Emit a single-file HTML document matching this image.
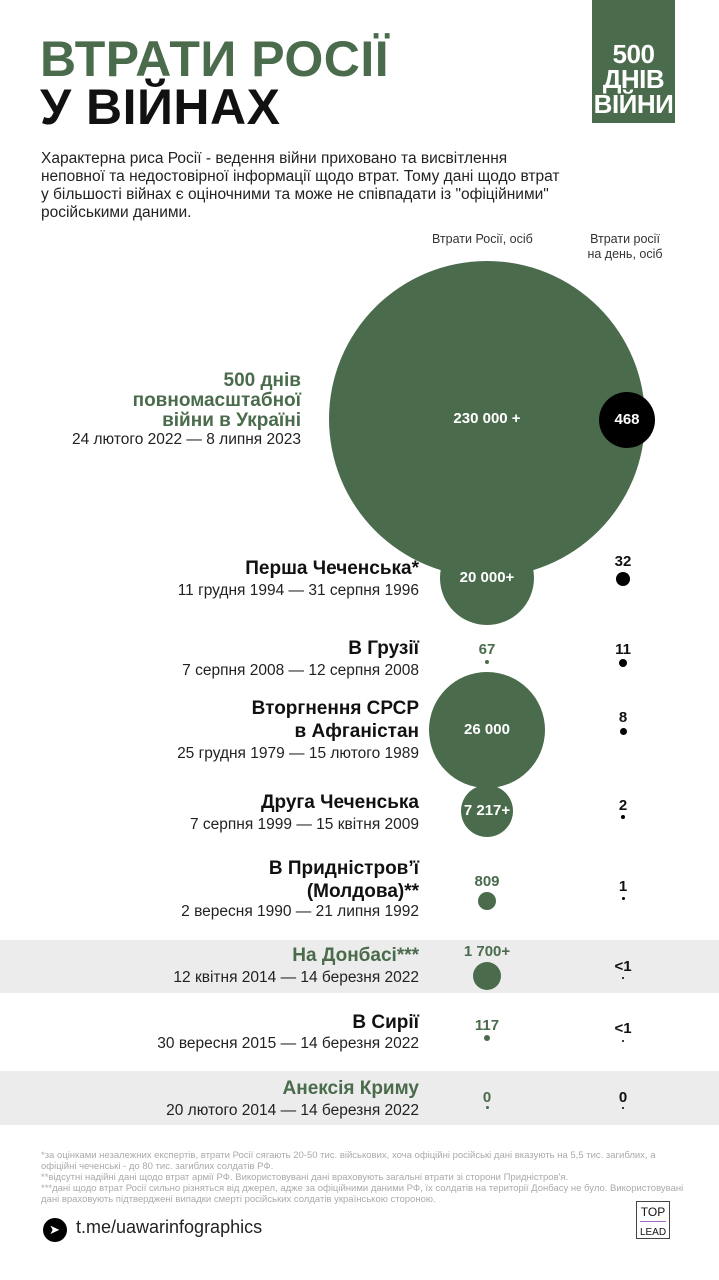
<!DOCTYPE html>
<html><head><meta charset="utf-8"><style>
body{margin:0;width:719px;height:1280px;background:#fff;position:relative;overflow:hidden;font-family:"Liberation Sans","DejaVu Sans",sans-serif;color:#111}
.a{position:absolute}
.t{position:absolute;right:300px;text-align:right;white-space:nowrap;z-index:2}
.h{font-weight:bold;font-size:19px;line-height:23px}
.d{font-size:15.5px;line-height:21px;color:#222}
.g{color:#4a6b4c}
.band{position:absolute;left:0;width:719px;background:#ececec}
.c{position:absolute;border-radius:50%;background:#4a6b4c}
.k{position:absolute;border-radius:50%;background:#000}
.n{position:absolute;width:80px;margin-left:-40px;text-align:center;font-weight:bold;font-size:15px;z-index:2}
</style></head><body>
<div class="band" style="top:940px;height:53px"></div>
<div class="band" style="top:1071px;height:54px"></div>
<div class="a" style="left:40px;top:34px;font-weight:900;font-size:50px;line-height:50px;color:#4a6b4c;letter-spacing:0.5px">ВТРАТИ РОСІЇ</div>
<div class="a" style="left:40px;top:82px;font-weight:900;font-size:50px;line-height:50px;color:#111;letter-spacing:0.5px">У ВІЙНАХ</div>
<div class="a" style="left:592px;top:0;width:83px;height:123px;background:#4a6b4c;color:#fff;font-weight:900;text-align:center;font-size:26px;line-height:25px;padding-top:42px;box-sizing:border-box;letter-spacing:-0.5px">500<br>ДНІВ<br>ВІЙНИ</div>
<div class="a" style="left:41px;top:150px;font-size:15.5px;line-height:18px;color:#222;width:600px">Характерна риса Росії - ведення війни приховано та висвітлення<br>неповної та недостовірної інформації щодо втрат. Тому дані щодо втрат<br>у більшості війнах є оціночними та може не співпадати із "офіційними"<br>російськими даними.</div>
<div class="a" style="left:432px;top:232px;font-size:12.5px;color:#333">Втрати Росії, осіб</div>
<div class="a" style="left:570px;top:232px;width:110px;text-align:center;font-size:12.5px;line-height:15px;color:#333">Втрати росії<br>на день, осіб</div>

<div class="c" style="left:329px;top:261px;width:316px;height:316px"></div>
<div class="n" style="left:487px;top:410px;color:#fff;width:120px;margin-left:-60px">230 000 +</div>
<div class="k" style="left:599px;top:392px;width:56px;height:56px"></div>
<div class="n" style="left:627px;top:411px;color:#fff">468</div>
<div class="t h g" style="top:371px;right:418px;line-height:20px">500 днів<br>повномасштабної<br>війни в Україні</div>
<div class="t d" style="top:429px;right:418px">24 лютого 2022 — 8 липня 2023</div>

<div class="c" style="left:440px;top:531px;width:94px;height:94px"></div>
<div class="n" style="left:487px;top:569px;color:#fff">20 000+</div>
<div class="n" style="left:623px;top:553px">32</div><div class="k" style="left:616px;top:572px;width:14px;height:14px"></div>
<div class="t h" style="top:557px">Перша Чеченська*</div>
<div class="t d" style="top:580px">11 грудня 1994 — 31 серпня 1996</div>

<div class="n g" style="left:487px;top:641px">67</div><div class="c" style="left:485px;top:660px;width:4px;height:4px"></div>
<div class="n" style="left:623px;top:641px">11</div><div class="k" style="left:619px;top:659px;width:8px;height:8px"></div>
<div class="t h" style="top:637px">В Грузії</div>
<div class="t d" style="top:660px">7 серпня 2008 — 12 серпня 2008</div>

<div class="c" style="left:429px;top:672px;width:116px;height:116px"></div>
<div class="n" style="left:487px;top:721px;color:#fff">26 000</div>
<div class="n" style="left:623px;top:709px">8</div><div class="k" style="left:620px;top:728px;width:7px;height:7px"></div>
<div class="t h" style="top:697px">Вторгнення СРСР<br>в Афганістан</div>
<div class="t d" style="top:743px">25 грудня 1979 — 15 лютого 1989</div>

<div class="c" style="left:461px;top:785px;width:52px;height:52px"></div>
<div class="n" style="left:487px;top:802px;color:#fff">7 217+</div>
<div class="n" style="left:623px;top:797px">2</div><div class="k" style="left:621px;top:815px;width:4px;height:4px"></div>
<div class="t h" style="top:791px">Друга Чеченська</div>
<div class="t d" style="top:814px">7 серпня 1999 — 15 квітня 2009</div>

<div class="n g" style="left:487px;top:873px">809</div><div class="c" style="left:478px;top:892px;width:18px;height:18px"></div>
<div class="n" style="left:623px;top:878px">1</div><div class="k" style="left:622px;top:897px;width:3px;height:3px"></div>
<div class="t h" style="top:857px">В Придністров’ї<br>(Молдова)**</div>
<div class="t d" style="top:901px">2 вересня 1990 — 21 липня 1992</div>

<div class="n g" style="left:487px;top:943px">1 700+</div><div class="c" style="left:473px;top:962px;width:28px;height:28px"></div>
<div class="n" style="left:623px;top:958px">&lt;1</div><div class="k" style="left:622px;top:977px;width:2px;height:2px"></div>
<div class="t h g" style="top:944px">На Донбасі***</div>
<div class="t d" style="top:967px">12 квітня 2014 — 14 березня 2022</div>

<div class="n g" style="left:487px;top:1017px">117</div><div class="c" style="left:484px;top:1035px;width:6px;height:6px"></div>
<div class="n" style="left:623px;top:1020px">&lt;1</div><div class="k" style="left:622px;top:1040px;width:2px;height:2px"></div>
<div class="t h" style="top:1011px">В Сирії</div>
<div class="t d" style="top:1033px">30 вересня 2015 — 14 березня 2022</div>

<div class="n g" style="left:487px;top:1089px">0</div><div class="c" style="left:486px;top:1106px;width:3px;height:3px"></div>
<div class="n" style="left:623px;top:1089px">0</div><div class="k" style="left:622px;top:1107px;width:2px;height:2px"></div>
<div class="t h g" style="top:1077px">Анексія Криму</div>
<div class="t d" style="top:1100px">20 лютого 2014 — 14 березня 2022</div>

<div class="a" style="left:41px;top:1150px;font-size:9.5px;line-height:11px;color:#aaa;width:650px">*за оцінками незалежних експертів, втрати Росії сягають 20-50 тис. військових, хоча офіційні російські дані вказують на 5,5 тис. загиблих, а офіційні чеченські - до 80 тис. загиблих солдатів РФ.<br>**відсутні надійні дані щодо втрат армії РФ. Використовувані дані враховують загальні втрати зі сторони Придністров'я.<br>***дані щодо втрат Росії сильно різняться від джерел, адже за офіційними даними РФ, їх солдатів на території Донбасу не було. Використовувані дані враховують підтверджені випадки смерті російських солдатів українською стороною.</div>
<div class="k" style="left:43px;top:1218px;width:24px;height:24px"></div>
<div class="a" style="left:49px;top:1222px;color:#fff;font-size:13px">➤</div>
<div class="a" style="left:76px;top:1217px;font-size:18px;color:#222">t.me/uawarinfographics</div>
<div class="a" style="left:636px;top:1201px;width:34px;height:38px;border:1px solid #444;text-align:center;font-size:12px;line-height:14px;padding-top:3px;box-sizing:border-box">TOP<div style="border-top:1px solid #a36ac0;margin:2px 3px"></div><span style="font-size:10px">LEAD</span></div>
</body></html>
